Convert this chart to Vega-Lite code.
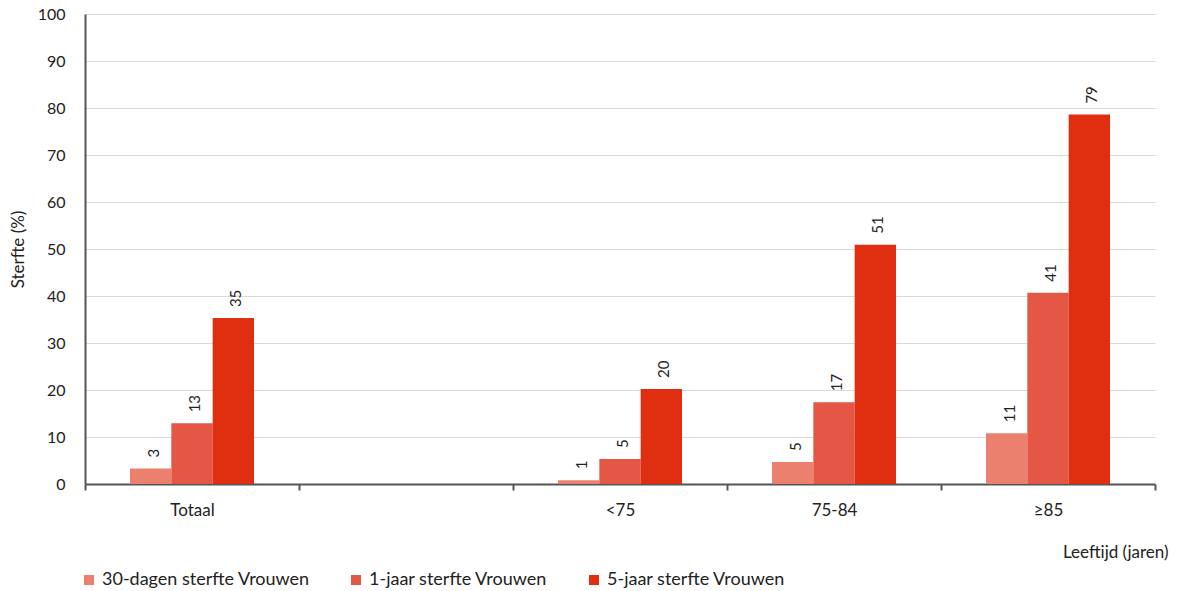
{
  "$schema": "https://vega.github.io/schema/vega-lite/v6.json",
  "autosize": "none",
  "width": 1070,
  "height": 470,
  "padding": {"left": 85, "top": 14, "right": 26, "bottom": 107},
  "background": "white",
  "config": {
    "font": "Lato",
    "view": {"stroke": null}
  },
  "data": {
    "values": [
      {"group": "Totaal", "series": "30-dagen sterfte Vrouwen", "value": 3.3},
      {"group": "Totaal", "series": "1-jaar sterfte Vrouwen", "value": 12.9},
      {"group": "Totaal", "series": "5-jaar sterfte Vrouwen", "value": 35.3},
      {"group": "<75", "series": "30-dagen sterfte Vrouwen", "value": 0.8},
      {"group": "<75", "series": "1-jaar sterfte Vrouwen", "value": 5.3},
      {"group": "<75", "series": "5-jaar sterfte Vrouwen", "value": 20.2},
      {"group": "75-84", "series": "30-dagen sterfte Vrouwen", "value": 4.7},
      {"group": "75-84", "series": "1-jaar sterfte Vrouwen", "value": 17.4},
      {"group": "75-84", "series": "5-jaar sterfte Vrouwen", "value": 50.9},
      {"group": "≥85", "series": "30-dagen sterfte Vrouwen", "value": 10.8},
      {"group": "≥85", "series": "1-jaar sterfte Vrouwen", "value": 40.7},
      {"group": "≥85", "series": "5-jaar sterfte Vrouwen", "value": 78.6}
    ]
  },
  "encoding": {
    "x": {
      "field": "group",
      "type": "nominal",
      "sort": null,
      "scale": {"domain": ["Totaal", " ", "<75", "75-84", "≥85"], "paddingInner": 0, "paddingOuter": 0},
      "axis": {
        "title": "Leeftijd (jaren)",
        "titleX": 1083,
        "titleY": 68,
        "titleAlign": "right",
        "titleAnchor": null,
        "titleBaseline": "middle",
        "titleFontSize": 17,
        "titleFontWeight": "normal",
        "titleColor": "#222",
        "labelAngle": 0,
        "labelFontSize": 17,
        "labelColor": "#222",
        "labelPadding": 12,
        "tickBand": "extent",
        "tickSize": 6,
        "tickColor": "#555",
        "tickWidth": 2,
        "domainColor": "#555",
        "domainWidth": 2,
        "grid": false
      }
    },
    "xOffset": {
      "field": "series",
      "type": "nominal",
      "sort": ["30-dagen sterfte Vrouwen", "1-jaar sterfte Vrouwen", "5-jaar sterfte Vrouwen"],
      "scale": {"paddingInner": 0, "paddingOuter": 0, "range": [45, 169]}
    },
    "y": {
      "field": "value",
      "type": "quantitative",
      "scale": {"domain": [0, 100], "nice": false},
      "axis": {
        "title": "Sterfte (%)",
        "titleX": -67,
        "titleY": 235,
        "titleAlign": "center",
        "titleBaseline": "middle",
        "titleAnchor": null,
        "titleFontSize": 17,
        "titleFontWeight": "normal",
        "titleColor": "#222",
        "values": [0, 10, 20, 30, 40, 50, 60, 70, 80, 90, 100],
        "labelFontSize": 16,
        "labelColor": "#222",
        "labelPadding": 20,
        "ticks": false,
        "tickSize": 0,
        "domainColor": "#555",
        "domainWidth": 2,
        "grid": true,
        "gridColor": "#d9d9d9",
        "gridWidth": 1
      }
    }
  },
  "layer": [
    {
      "mark": {"type": "bar"},
      "encoding": {
        "color": {
          "field": "series",
          "type": "nominal",
          "sort": ["30-dagen sterfte Vrouwen", "1-jaar sterfte Vrouwen", "5-jaar sterfte Vrouwen"],
          "scale": {
            "domain": ["30-dagen sterfte Vrouwen", "1-jaar sterfte Vrouwen", "5-jaar sterfte Vrouwen"],
            "range": ["#EC806F", "#E55745", "#E02E10"]
          },
          "legend": {
            "title": null,
            "orient": "none",
            "direction": "horizontal",
            "legendX": -5,
            "legendY": 557,
            "padding": 0,
            "columns": 3,
            "columnPadding": 37,
            "symbolType": "square",
            "symbolSize": 100,
            "symbolStrokeWidth": 0,
            "symbolOpacity": 1,
            "labelFontSize": 18,
            "labelColor": "#222",
            "labelOffset": 4,
            "labelLimit": 400
          }
        }
      }
    },
    {
      "mark": {"type": "text", "angle": 270, "align": "left", "baseline": "middle", "dx": 11, "dy": 3, "fontSize": 15, "color": "#222"},
      "encoding": {
        "text": {"field": "value", "type": "quantitative", "format": ".0f"}
      }
    }
  ]
}
